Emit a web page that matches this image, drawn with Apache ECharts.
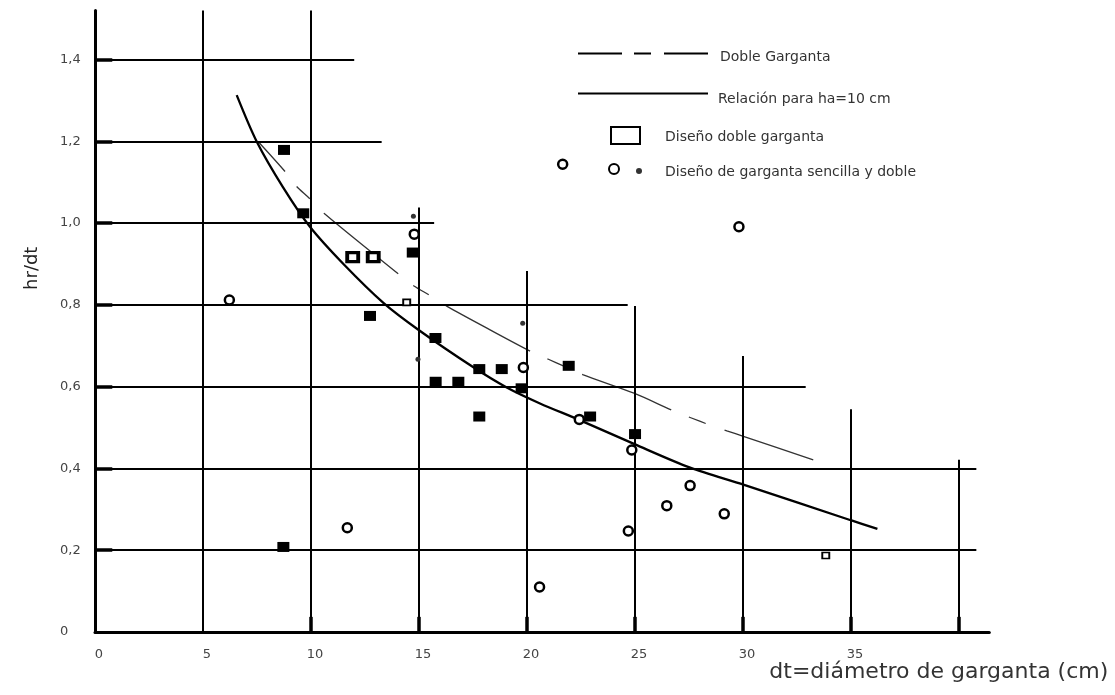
<!DOCTYPE html>
<html>
<head>
<meta charset="utf-8">
<script src="https://cdn.jsdelivr.net/npm/echarts@6/dist/echarts.min.js"></script>
<style>
html,body{margin:0;padding:0;background:#fff;}
#chart{width:1115px;height:695px;}
</style>
</head>
<body>
<div id="chart"></div>
<script>
// ---- tick labels ----
const xTickValues = [0, 5, 10, 15, 20, 25, 30, 35];
const xTickLabels = ['0', '5', '10', '15', '20', '25', '30', '35'];
const yTickValues = [0, 0.2, 0.4, 0.6, 0.8, 1.0, 1.2, 1.4];
const yTickLabels = ['0', '0,2', '0,4', '0,6', '0,8', '1,0', '1,2', '1,4'];

// ---- drawn grid (irregular lengths) ----
const hGridY = [0.2, 0.4, 0.6, 0.8, 1.0, 1.2, 1.4];
const hGridEnd = [40.8, 40.8, 32.9, 24.66, 15.7, 13.27, 12.0];
const vGridX = [5, 10, 15, 20, 25, 30, 35, 40];
const vGridTop = [1.52, 1.52, 1.038, 0.883, 0.797, 0.675, 0.545, 0.421];
const xMarkTicks = [10, 15, 20, 25, 30, 35, 40];
const yMarkTicks = [0.2, 0.4, 0.6, 0.8, 1.0, 1.2, 1.4];

// ---- curves ----
const solidX = [6.56, 7.49, 8.7, 9.95, 11.5, 13.35, 15.0, 17.5, 19.06, 20.6, 22.36, 24.95, 27.55, 30.05, 34.95, 36.22];
const solidY = [1.313, 1.199, 1.088, 0.991, 0.9, 0.805, 0.738, 0.648, 0.598, 0.559, 0.52, 0.46, 0.402, 0.36, 0.274, 0.252];
const dashX = [7.56, 8.8, 9.31, 9.92, 10.6, 14.04, 14.77, 15.51, 16.28, 18.29, 20.22, 20.99, 21.68, 22.61, 24.95, 26.77, 27.58, 28.47, 29.25, 30.05, 33.25];
const dashY = [1.199, 1.126, 1.091, 1.061, 1.024, 0.876, 0.846, 0.823, 0.797, 0.739, 0.685, 0.667, 0.651, 0.629, 0.584, 0.541, 0.524, 0.506, 0.492, 0.478, 0.421];

// ---- points ----
const sqX = [8.75, 9.64, 12.73, 14.71, 15.76, 15.77, 16.82, 17.79, 18.83, 17.79, 19.75, 21.93, 22.92, 25.0, 8.72];
const sqY = [1.179, 1.024, 0.773, 0.928, 0.719, 0.612, 0.612, 0.643, 0.643, 0.527, 0.596, 0.651, 0.527, 0.484, 0.208];
const sqOpenX = [11.93, 12.88];
const sqOpenY = [0.917, 0.917];
const sqSmallX = [14.43, 33.83];
const sqSmallY = [0.806, 0.187];
const circX = [6.22, 14.78, 19.83, 21.65, 29.81, 22.42, 24.85, 27.55, 26.47, 29.13, 24.69, 11.68, 20.58];
const circY = [0.812, 0.973, 0.647, 1.144, 0.991, 0.52, 0.445, 0.358, 0.309, 0.289, 0.247, 0.255, 0.110];
const dotX = [14.74, 14.95, 19.8];
const dotY = [1.017, 0.667, 0.755];

const zip = (xs, ys) => xs.map((x, i) => [x, ys[i]]);

const FONT = 'DejaVu Sans';
const X_MAX = 41.4, Y_MAX = 1.52;
const Y_TICK_LEN = 0.8;    // in x units
const X_TICK_LEN = 0.037;  // in y units

const gridLines = [];
hGridY.forEach((y, i) => gridLines.push([{coord: [0, y]}, {coord: [hGridEnd[i], y]}]));
vGridX.forEach((x, i) => gridLines.push([{coord: [x, 0]}, {coord: [x, vGridTop[i]]}]));
const tickLines = [];
yMarkTicks.forEach(y => tickLines.push([{coord: [0, y]}, {coord: [Y_TICK_LEN, y]}]));
xMarkTicks.forEach(x => tickLines.push([{coord: [x, 0]}, {coord: [x, X_TICK_LEN]}]));

const near = (v, arr) => arr.findIndex(t => Math.abs(t - v) < 1e-6);
const hideSym = {color: 'rgba(0,0,0,0)', borderWidth: 0};
const legText = (pad) => ({
  rich: {t: {fontFamily: FONT, fontSize: 14, color: '#333', padding: pad}}
});
const richName = n => '{t|' + n + '}';

const chart = echarts.init(document.getElementById('chart'), null, {renderer: 'canvas'});
chart.setOption({
  animation: false,
  backgroundColor: '#fff',
  textStyle: {fontFamily: FONT},
  grid: {left: 95, right: 125.7, top: 10.5, bottom: 63, containLabel: false, outerBoundsMode: 'none'},
  xAxis: {
    type: 'value', min: 0, max: X_MAX, interval: 5,
    axisLine: {show: true, onZero: false, lineStyle: {color: '#000', width: 3}},
    axisTick: {show: false},
    splitLine: {show: false},
    axisLabel: {
      fontFamily: FONT, fontSize: 13, color: '#444', margin: 16, padding: [0, 0, 0, 8],
      formatter: v => { const i = near(v, xTickValues); return i >= 0 ? xTickLabels[i] : ''; }
    },
    name: 'dt=diámetro de garganta (cm)',
    nameLocation: 'end', nameGap: 119, nameMoveOverlap: false,
    nameTextStyle: {fontFamily: FONT, fontSize: 22, color: '#333', align: 'right', verticalAlign: 'top', lineHeight: 80}
  },
  yAxis: {
    type: 'value', min: 0, max: Y_MAX, interval: 0.2,
    axisLine: {show: true, onZero: false, lineStyle: {color: '#000', width: 3}},
    axisTick: {show: false},
    splitLine: {show: false},
    axisLabel: {
      fontFamily: FONT, fontSize: 13, color: '#444', margin: 35, align: 'left',
      formatter: v => { const i = near(v, yTickValues); return i >= 0 ? yTickLabels[i] : ''; }
    },
    name: 'hr/dt',
    nameLocation: 'middle', nameGap: 54,
    nameTextStyle: {fontFamily: FONT, fontSize: 18, color: '#222', padding: [0, 0, 0, 106]}
  },
  legend: [
    {
      data: ['Doble Garganta'], left: 577, top: 48, padding: 0, itemWidth: 130, itemHeight: 14, selectedMode: false,
      lineStyle: {type: [44, 12, 17, 13], dashOffset: 0, width: 2, color: '#000'}, itemStyle: hideSym,
      formatter: richName, textStyle: legText([7, 0, 0, 7])
    },
    {
      data: ['Relación para ha=10 cm'], left: 577, top: 88, padding: 0, itemWidth: 130, itemHeight: 14, selectedMode: false,
      lineStyle: {width: 2, color: '#000'}, itemStyle: hideSym,
      formatter: richName, textStyle: legText([12, 0, 0, 5])
    },
    {
      data: ['Diseño doble garganta'], left: 610, top: 126, padding: 0, itemWidth: 29, itemHeight: 17, selectedMode: false,
      icon: 'rect',
      itemStyle: {color: '#fff', borderColor: '#000', borderWidth: 2},
      formatter: richName, textStyle: legText([3, 0, 0, 20])
    },
    {
      data: ['círculos'], left: 608, top: 163, padding: 0, itemWidth: 10, itemHeight: 10, selectedMode: false,
      icon: 'circle', formatter: () => ''
    },
    {
      data: ['Diseño de garganta sencilla y doble'], left: 636, top: 165, padding: 0, itemWidth: 6, itemHeight: 6, selectedMode: false,
      icon: 'circle',
      formatter: richName, textStyle: legText([2, 0, 0, 18])
    }
  ],
  series: [
    {
      type: 'line', name: 'grid', data: [], silent: true, z: 1,
      markLine: {silent: true, symbol: 'none', label: {show: false},
        lineStyle: {color: '#000', width: 2, type: 'solid'}, data: gridLines, animation: false}
    },
    {
      type: 'line', name: 'ticks', data: [], silent: true, z: 1,
      markLine: {silent: true, symbol: 'none', label: {show: false},
        lineStyle: {color: '#000', width: 3.5, type: 'solid'}, data: tickLines, animation: false}
    },
    {
      type: 'line', name: 'Relación para ha=10 cm', data: zip(solidX, solidY), smooth: 0.3,
      showSymbol: false, symbol: 'none', z: 3,
      itemStyle: {color: '#000'},
      lineStyle: {color: '#000', width: 2.3}
    },
    {
      type: 'line', name: 'Doble Garganta', data: zip(dashX, dashY), smooth: 0.3,
      showSymbol: false, symbol: 'none', z: 3,
      itemStyle: {color: '#000'},
      lineStyle: {color: '#333', width: 1.3, type: [96, 19, 18, 20], dashOffset: 56}
    },
    {
      type: 'scatter', name: 'Diseño doble garganta', data: zip(sqX, sqY), symbol: 'rect', symbolSize: [12, 10], z: 5,
      itemStyle: {color: '#000', opacity: 1}
    },
    {
      type: 'scatter', name: 'cuadros abiertos', data: zip(sqOpenX, sqOpenY), symbol: 'rect', symbolSize: [11, 9], z: 5,
      itemStyle: {color: '#fff', borderColor: '#000', borderWidth: 3.5, opacity: 1}
    },
    {
      type: 'scatter', name: 'cuadros pequeños', data: zip(sqSmallX, sqSmallY), symbol: 'rect', symbolSize: [7, 6], z: 5,
      itemStyle: {color: '#fff', borderColor: '#000', borderWidth: 1.8, opacity: 1}
    },
    {
      type: 'scatter', name: 'círculos', data: zip(circX, circY), symbol: 'circle', symbolSize: 9, z: 5,
      itemStyle: {color: '#fff', borderColor: '#000', borderWidth: 2.5, opacity: 1}
    },
    {
      type: 'scatter', name: 'Diseño de garganta sencilla y doble', data: zip(dotX, dotY), symbol: 'circle', symbolSize: 5, z: 5,
      itemStyle: {color: '#333', opacity: 1}
    }
  ]
});
</script>
</body>
</html>
